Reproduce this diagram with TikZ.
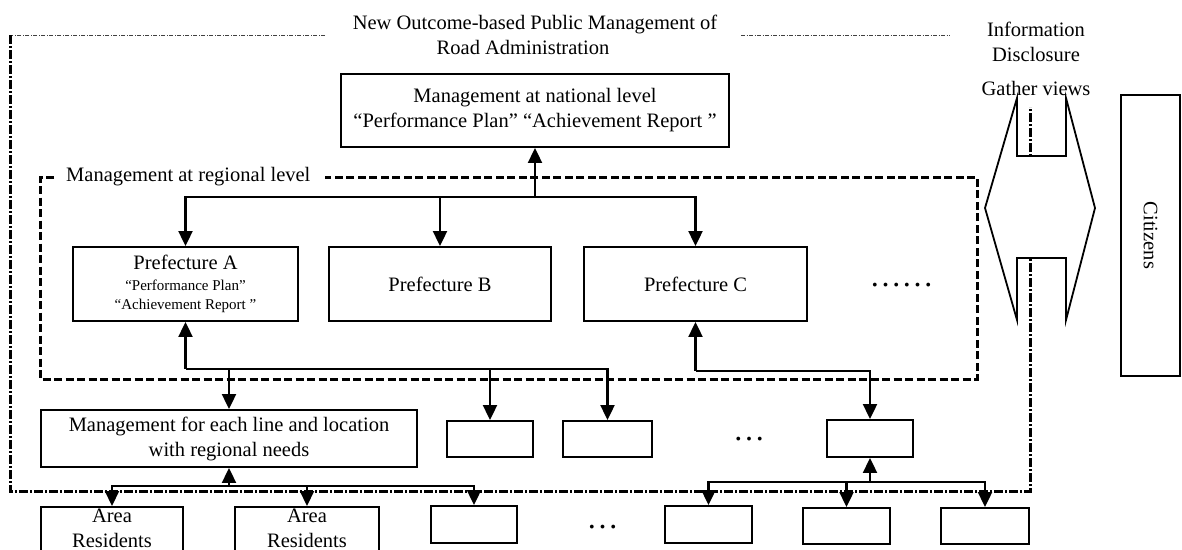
\documentclass[tikz,border=0pt]{standalone}
\usepackage{fontspec}
\setmainfont{Liberation Serif}
\usetikzlibrary{arrows.meta}
\begin{document}
\begin{tikzpicture}[x=1pt,y=-1pt,
  txt/.style={font=\fontsize{20.5}{25}\selectfont, align=center, inner sep=0pt},
  box/.style={txt, draw, line width=1.9pt, fill=white},
  conn/.style={line width=2.1pt},
  arr/.style={conn, -{Triangle[width=14pt,length=15pt]}},
  outerframe/.style={line width=3pt, dash pattern=on 9pt off 2pt on 2pt off 2pt},
  outerthin/.style={line width=1pt, black!75, dash pattern=on 4pt off 1.5pt on 1pt off 1.5pt},
  regframe/.style={line width=3pt, dash pattern=on 8pt off 3.5pt},
  dots/.style={font=\fontsize{32}{32}\selectfont, inner sep=0pt},
  shapeline/.style={line width=1.8pt, line join=miter}]
\useasboundingbox (0,0) rectangle (1182,549);

% outer frame: road administration as a whole
\draw[outerthin] (325,35) -- (10,35);
\draw[outerthin] (741,35) -- (950,35);
\draw[outerframe] (10,35) -- (10,491) -- (1030,491) -- (1030,107);

% regional frame
\draw[regframe] (54,177) -- (40,177) -- (40,379) -- (977,379) -- (977,177) -- (325,177);

% two-way exchange with citizens
\draw[shapeline, fill=white] (1017,98) -- (1017,156) -- (1066,156) -- (1066,98)
  -- (1095,208) -- (1066,320) -- (1066,258) -- (1017,258) -- (1017,320)
  -- (985,208) -- cycle;

% titles and labels
\node[txt] (title) at (535,34.5) {New Outcome-based Public Management of\\\hspace*{-24pt}Road Administration};
\node[txt, anchor=west] (reglabel) at (66,177) {Management at regional level};
\node[txt] (info) at (1036,41.5) {Information\\Disclosure};
\node[txt] (gather) at (1036,88) {Gather views};

% national level
\node[box, minimum width=388pt, minimum height=73pt] (nat) at (535,110.5)
  {Management at national level\\“Performance Plan” “Achievement Report ”};

% prefectures
\node[box, minimum width=225pt, minimum height=74pt] (prefA) at (185.5,284)
  {Prefecture A\\[-4.5pt]{\fontsize{15}{19}\selectfont “Performance Plan”}\\[-6pt]{\fontsize{15}{19}\selectfont “Achievement Report ”}};
\node[box, minimum width=222pt, minimum height=74pt] (prefB) at (440,284) {Prefecture B};
\node[box, minimum width=223pt, minimum height=74pt] (prefC) at (695.5,284) {Prefecture C};
\node[dots] (morepref) at (901.5,285) {……};

% line and location level
\node[box, minimum width=376pt, minimum height=57pt] (mgmt) at (229,438.5)
  {Management for each line and location\\with regional needs};
\node[box, minimum width=86pt, minimum height=36pt] (s1) at (490,439) {};
\node[box, minimum width=89pt, minimum height=36pt] (s2) at (607.5,439) {};
\node[dots] (moremid) at (749,439) {…};
\node[box, minimum width=86pt, minimum height=37pt] (csub) at (870,438.5) {};

% residents
\node[box, anchor=north, minimum width=142pt, inner ysep=2pt] (ar1) at (112,506) {Area\\Residents\strut};
\node[box, anchor=north, minimum width=144pt, inner ysep=2pt] (ar2) at (307,506) {Area\\Residents\strut};
\node[box, minimum width=86pt, minimum height=37pt] (b3) at (474,524.5) {};
\node[dots] (morelow) at (602.5,527) {…};
\node[box, minimum width=87pt, minimum height=37pt] (b4) at (708.5,524.5) {};
\node[box, minimum width=87pt, minimum height=36pt] (b5) at (846.5,526) {};
\node[box, minimum width=88pt, minimum height=36pt] (b6) at (985,526) {};

% citizens
\node[box, rotate=-90, minimum width=281pt, minimum height=59pt] (cit) at (1150.5,235.5) {Citizens};

% national <-> prefectures
\coordinate (topbus) at (535,197);
\draw[arr] (topbus) -- (nat.south);
\draw[arr] (topbus) -| (prefA.north);
\draw[arr] (topbus) -| (prefB.north);
\draw[arr] (topbus) -| (prefC.north);

% prefecture A <-> lines and locations
\coordinate (busA) at (prefA.south |- 0,369);
\draw[arr] (busA) -- (prefA.south);
\draw[arr] (busA) -| (mgmt.north);
\draw[arr] (busA) -| (s1.north);
\draw[arr] (busA) -| (s2.north);

% prefecture C <-> lines and locations
\coordinate (busC) at (prefC.south |- 0,371);
\draw[arr] (busC) -- (prefC.south);
\draw[arr] (busC) -| (csub.north);

% lines and locations <-> residents
\coordinate (busM) at (mgmt.south |- 0,486);
\draw[arr] (busM) -- (mgmt.south);
\draw[arr] (busM) -| (ar1.north);
\draw[arr] (busM) -| (ar2.north);
\draw[arr] (busM) -| (b3.north);

\coordinate (busS) at (csub.south |- 0,482);
\draw[arr] (busS) -- (csub.south);
\draw[arr] (busS) -| (b4.north);
\draw[arr] (busS) -| (b5.north);
\draw[arr] (busS) -| (b6.north);
\end{tikzpicture}
\end{document}
